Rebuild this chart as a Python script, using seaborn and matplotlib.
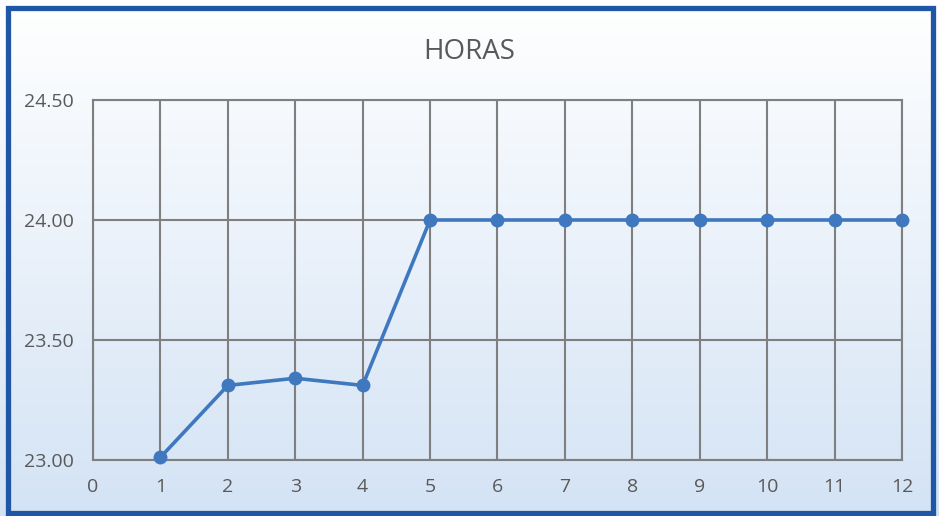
import numpy as np
import pandas as pd
import matplotlib.pyplot as plt
import seaborn as sns
from matplotlib.patches import Rectangle
from matplotlib.ticker import FormatStrFormatter

dias = [1, 2, 3, 4, 5, 6, 7, 8, 9, 10, 11, 12]
horas = [23.01, 23.31, 23.34, 23.31, 24.00, 24.00, 24.00, 24.00, 24.00, 24.00, 24.00, 24.00]
x_ticks = list(range(0, 13))
y_ticks = [23.00, 23.50, 24.00, 24.50]

df = pd.DataFrame({'dia': dias, 'horas': horas})

sns.set_style('white')
plt.rcParams['font.family'] = ['Open Sans', 'DejaVu Sans']

fig = plt.figure(figsize=(9.39, 5.16), dpi=100)

# fondo degradado
bg = fig.add_axes([0, 0, 1, 1], zorder=0)
grad = np.linspace(0, 1, 256).reshape(-1, 1)
top = np.array([1.0, 1.0, 1.0])
bottom = np.array([0.83, 0.89, 0.96])
img = top + (bottom - top) * grad[:, :, None]
bg.imshow(img, aspect='auto', extent=[0, 1, 0, 1])
bg.axis('off')

ax = fig.add_axes([0.099, 0.109, 0.8616, 0.697], zorder=1)
ax.patch.set_alpha(0)
sns.lineplot(data=df, x='dia', y='horas', ax=ax, color='#3F78BF', linewidth=2.6,
             marker='o', markersize=10, markeredgewidth=0, clip_on=False, zorder=3)

ax.set_xlim(0, 12)
ax.set_ylim(23.0, 24.5)
ax.set_xticks(x_ticks)
ax.set_yticks(y_ticks)
ax.yaxis.set_major_formatter(FormatStrFormatter('%.2f'))
ax.grid(True, color='#7F7F7F', linewidth=1.5)
for s in ax.spines.values():
    s.set_visible(True)
    s.set_color('#7F7F7F')
    s.set_linewidth(1.5)
ax.tick_params(axis='both', length=0, labelsize=14, labelcolor='#595959')
ax.tick_params(axis='x', pad=13)
ax.tick_params(axis='y', pad=14)
ax.set_xlabel('')
ax.set_ylabel('')

fig.text(0.5, 0.9, 'HORAS', ha='center', va='center', fontsize=20, color='#595959')

# borde azul
fig.patches.append(Rectangle((0.0085, 0.0065), 0.9855, 0.9775, transform=fig.transFigure,
                             fill=False, edgecolor='#1F56A6', linewidth=3.8, zorder=5))

plt.savefig('out.png', dpi=100)
